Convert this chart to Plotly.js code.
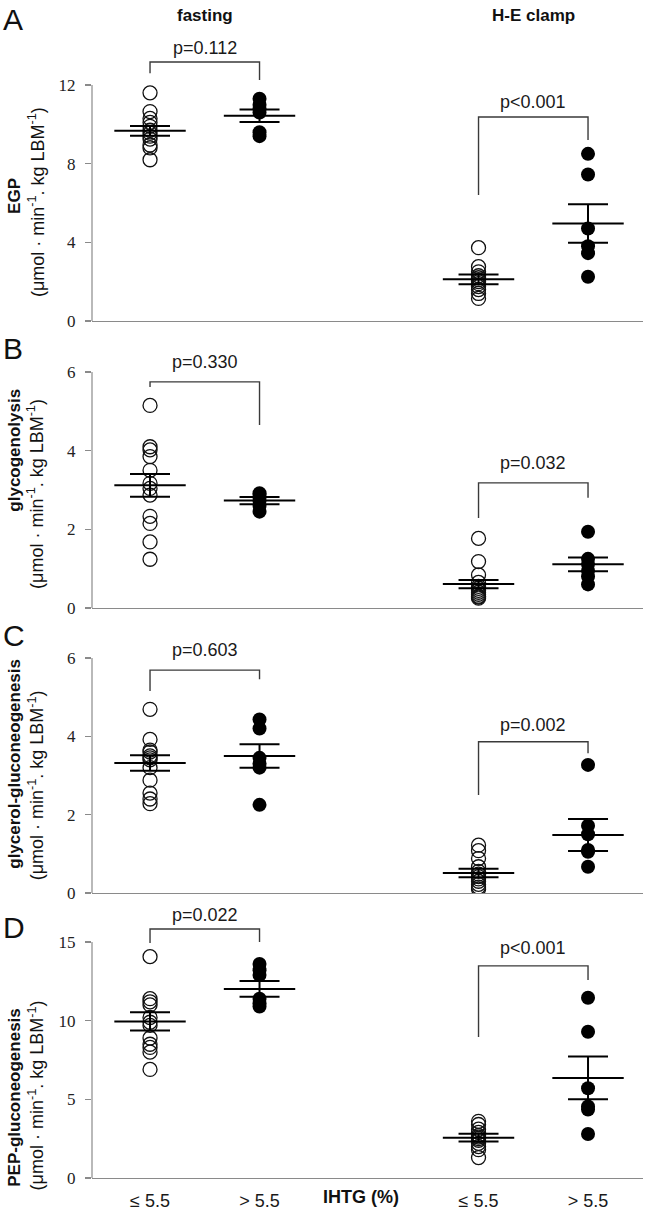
<!DOCTYPE html>
<html><head><meta charset="utf-8">
<script src="https://cdn.plot.ly/plotly-3.0.1.min.js"></script>
<style>html,body{margin:0;padding:0;background:#fff}</style>
</head><body><div id="chart" style="width:656px;height:1218px"></div>
<script>
// ---------- DATA ----------
const conditions = ["fasting", "H-E clamp"];
const ihtgTickLabels = ["≤ 5.5", "> 5.5", "≤ 5.5", "> 5.5"];
const xAxisTitle = "IHTG (%)";
const panelLetters = ["A", "B", "C", "D"];
const yTitles = ["EGP", "glycogenolysis", "glycerol-gluconeogenesis", "PEP-gluconeogenesis"];
const unitText = "(μmol · min<sup>-1</sup>. kg LBM<sup>-1</sup>)";

// A: EGP
const egpFastLow   = [11.6, 10.65, 10.3, 10.1, 9.9, 9.7, 9.55, 9.4, 9.25, 8.95, 8.8, 8.2];
const egpFastHigh  = [11.3, 11.0, 10.8, 10.6, 9.6, 9.4];
const egpClampLow  = [3.73, 2.76, 2.5, 2.3, 2.2, 2.1, 2.0, 1.9, 1.75, 1.6, 1.4, 1.15];
const egpClampHigh = [8.5, 7.45, 4.7, 3.8, 3.45, 2.25];
const egpMean = [9.67, 10.44, 2.12, 4.96];
const egpSem  = [0.25, 0.315, 0.245, 0.975];
const egpP    = ["p=0.112", "p<0.001"];
const egpTicks = [0, 4, 8, 12];

// B: glycogenolysis
const glyFastLow   = [5.15, 4.1, 4.02, 3.85, 3.5, 3.17, 3.04, 2.87, 2.33, 2.15, 1.68, 1.24];
const glyFastHigh  = [2.92, 2.88, 2.8, 2.72, 2.6, 2.45];
const glyClampLow  = [1.77, 1.18, 0.84, 0.65, 0.55, 0.5, 0.45, 0.4, 0.35, 0.3, 0.28, 0.25];
const glyClampHigh = [1.94, 1.25, 1.12, 0.95, 0.8, 0.6];
const glyMean = [3.12, 2.73, 0.61, 1.11];
const glySem  = [0.29, 0.09, 0.105, 0.175];
const glyP    = ["p=0.330", "p=0.032"];
const glyTicks = [0, 2, 4, 6];

// C: glycerol-gluconeogenesis
const gngFastLow   = [4.69, 3.92, 3.65, 3.6, 3.5, 3.45, 3.4, 3.2, 2.88, 2.55, 2.4, 2.28];
const gngFastHigh  = [4.43, 4.2, 3.45, 3.3, 3.2, 2.25];
const gngClampLow  = [1.22, 1.08, 0.88, 0.67, 0.55, 0.48, 0.42, 0.36, 0.3, 0.22, 0.15, 0.1];
const gngClampHigh = [3.27, 1.72, 1.5, 1.1, 1.05, 0.67];
const gngMean = [3.32, 3.50, 0.51, 1.48];
const gngSem  = [0.2, 0.3, 0.11, 0.41];
const gngP    = ["p=0.603", "p=0.002"];
const gngTicks = [0, 2, 4, 6];

// D: PEP-gluconeogenesis
const pepFastLow   = [14.07, 11.4, 11.2, 11.0, 10.2, 9.9, 9.7, 8.9, 8.5, 8.3, 8.0, 6.9];
const pepFastHigh  = [13.6, 13.2, 12.9, 11.4, 11.1, 10.9];
const pepClampLow  = [3.6, 3.4, 3.1, 2.9, 2.7, 2.6, 2.5, 2.4, 2.2, 2.0, 1.8, 1.3];
const pepClampHigh = [11.46, 9.3, 5.7, 4.55, 4.35, 2.8];
const pepMean = [9.95, 12.02, 2.56, 6.36];
const pepSem  = [0.58, 0.5, 0.245, 1.355];
const pepP    = ["p=0.022", "p<0.001"];
const pepTicks = [0, 5, 10, 15];

// ---------- LAYOUT GEOMETRY (positions / styles) ----------
const W = 656, H = 1218;
const groupX = [1, 2, 4, 5];            // category slots on the x axis
const xRange = [0.47, 5.502];
const xDomain = [92 / W, 643 / W];
// zero pixel, pixel of top tick, top of range, letter centre, y-title centres (data units)
const geom = [
  {zeroPx: 321,  topTickPx: 85,  rangeMax: 14.3, letterY: 19,  titleY: 6.36, unitY: 6.05},
  {zeroPx: 608,  topTickPx: 372, rangeMax: 6.4,  letterY: 348, titleY: 4.0,  unitY: 2.9},
  {zeroPx: 893,  topTickPx: 658, rangeMax: 6.4,  letterY: 635, titleY: 3.3,  unitY: 2.75},
  {zeroPx: 1178, topTickPx: 942, rangeMax: 17.3, letterY: 927, titleY: 5.1,  unitY: 5.25}
];
// bracket geometry in data units: [top, leftLegBottom, rightLegBottom, textY]
const bracketPos = [
  [[13.17, 12.6, 12.25, 13.88], [10.37, 6.41, 9.2, 11.14]],
  [[5.75, 5.62, 4.65, 6.25],    [3.18, 2.29, 2.80, 3.69]],
  [[5.69, 5.16, 5.46, 6.2],     [3.86, 2.5, 3.57, 4.29]],
  [[15.83, 14.94, 15.0, 16.72], [13.48, 8.96, 12.59, 14.62]]
];

const panels = [
  {vals: [egpFastLow, egpFastHigh, egpClampLow, egpClampHigh], mean: egpMean, sem: egpSem, p: egpP, ticks: egpTicks},
  {vals: [glyFastLow, glyFastHigh, glyClampLow, glyClampHigh], mean: glyMean, sem: glySem, p: glyP, ticks: glyTicks},
  {vals: [gngFastLow, gngFastHigh, gngClampLow, gngClampHigh], mean: gngMean, sem: gngSem, p: gngP, ticks: gngTicks},
  {vals: [pepFastLow, pepFastHigh, pepClampLow, pepClampHigh], mean: pepMean, sem: pepSem, p: pepP, ticks: pepTicks}
];

const SANS = "Liberation Sans, Arial, sans-serif";
const SERIF = "Liberation Serif, Times New Roman, serif";
const AXIS_GRAY = "#8a8a8a";
const BRACKET = "#3a3a3a";

const traces = [];
const shapes = [];
const annotations = [];
const layout = {
  width: W, height: H,
  margin: {l: 0, r: 0, t: 0, b: 0},
  paper_bgcolor: "#fff", plot_bgcolor: "rgba(0,0,0,0)",
  showlegend: false, hovermode: false
};

panels.forEach((pn, i) => {
  const s = i === 0 ? "" : String(i + 1);
  const xa = "x" + s, ya = "y" + s;
  const g = geom[i];
  const topTick = pn.ticks[pn.ticks.length - 1];
  const pxPerUnit = (g.zeroPx - g.topTickPx) / topTick;
  const topPx = g.zeroPx - g.rangeMax * pxPerUnit;

  layout["xaxis" + s] = {
    domain: xDomain, range: xRange, anchor: ya,
    showline: true, linecolor: AXIS_GRAY, linewidth: 1.2,
    showgrid: false, zeroline: false, ticks: "",
    tickvals: groupX, ticktext: ihtgTickLabels,
    showticklabels: i === 3,
    tickfont: {family: SANS, size: 18, color: "#1a1a1a"},
    ticklabelstandoff: 6,
    fixedrange: true
  };
  layout["yaxis" + s] = {
    domain: [1 - g.zeroPx / H, 1 - topPx / H], range: [0, g.rangeMax], anchor: xa,
    showline: false, showgrid: false, zeroline: false,
    tickvals: pn.ticks, ticks: "outside", ticklen: 6, tickcolor: AXIS_GRAY, tickwidth: 1.2,
    tickfont: {family: SERIF, size: 17, color: "#222"},
    ticklabelstandoff: 6,
    fixedrange: true
  };

  // y axis line from 0 to top tick
  shapes.push({type: "line", xref: xa + " domain", yref: ya, x0: 0, x1: 0, y0: 0, y1: topTick,
    line: {color: AXIS_GRAY, width: 1.2}});

  // circles: open = IHTG ≤ 5.5, filled = IHTG > 5.5
  const openX = [], openY = [], fillX = [], fillY = [];
  [0, 2].forEach(k => pn.vals[k].forEach(v => { openX.push(groupX[k]); openY.push(v); }));
  [1, 3].forEach(k => pn.vals[k].forEach(v => { fillX.push(groupX[k]); fillY.push(v); }));
  traces.push({type: "scatter", mode: "markers", xaxis: xa, yaxis: ya, x: openX, y: openY,
    marker: {symbol: "circle-open", size: 14, color: "#111", line: {width: 1.3}}});
  traces.push({type: "scatter", mode: "markers", xaxis: xa, yaxis: ya, x: fillX, y: fillY,
    marker: {symbol: "circle", size: 14, color: "#000", line: {width: 0}}});
  // mean ± SEM
  traces.push({type: "scatter", mode: "markers", xaxis: xa, yaxis: ya, x: groupX, y: pn.mean,
    marker: {symbol: "line-ew-open", size: 51, color: "#000", line: {width: 2, color: "#000"}},
    error_y: {type: "data", array: pn.sem, visible: true, width: 20, thickness: 2, color: "#000"}});

  // brackets + p values
  [0, 1].forEach(c => {
    const [top, lb, rb, ty] = bracketPos[i][c];
    const xl = groupX[c * 2], xr = groupX[c * 2 + 1];
    shapes.push({type: "path", xref: xa, yref: ya,
      path: `M ${xl} ${lb} L ${xl} ${top} L ${xr} ${top} L ${xr} ${rb}`,
      line: {color: BRACKET, width: 1.4}});
    annotations.push({xref: xa, yref: ya, x: (xl + xr) / 2, y: ty, text: pn.p[c], showarrow: false,
      xanchor: "center", yanchor: "middle", font: {family: SANS, size: 18, color: "#1a1a1a"}});
  });

  // y-axis titles (two lines)
  annotations.push({xref: "paper", yref: ya, x: 15 / W, y: g.titleY, text: "<b>" + yTitles[i] + "</b>",
    textangle: -90, showarrow: false, xanchor: "center", yanchor: "middle",
    font: {family: SANS, size: 17, color: "#111"}});
  annotations.push({xref: "paper", yref: ya, x: 36 / W, y: g.unitY, text: unitText,
    textangle: -90, showarrow: false, xanchor: "center", yanchor: "middle",
    font: {family: SANS, size: 18, color: "#111"}});

  // panel letter
  annotations.push({xref: "paper", yref: "paper", x: 1 / W, y: 1 - g.letterY / H, text: panelLetters[i],
    showarrow: false, xanchor: "left", yanchor: "middle", font: {family: SANS, size: 30, color: "#111"}});
});

// condition headers
conditions.forEach((c, k) => {
  annotations.push({xref: "x", yref: "paper", x: (groupX[k * 2] + groupX[k * 2 + 1]) / 2, y: 1 - 15 / H,
    text: "<b>" + c + "</b>", showarrow: false, xanchor: "center", yanchor: "middle",
    font: {family: SANS, size: 17, color: "#111"}});
});
// x-axis title
annotations.push({xref: "x4", yref: "paper", x: 2.93, y: 1 - 1197 / H, text: "<b>" + xAxisTitle + "</b>",
  showarrow: false, xanchor: "center", yanchor: "middle", font: {family: SANS, size: 18, color: "#111"}});

layout.shapes = shapes;
layout.annotations = annotations;

Plotly.newPlot("chart", traces, layout, {staticPlot: true, displayModeBar: false});
</script>
</body></html>
